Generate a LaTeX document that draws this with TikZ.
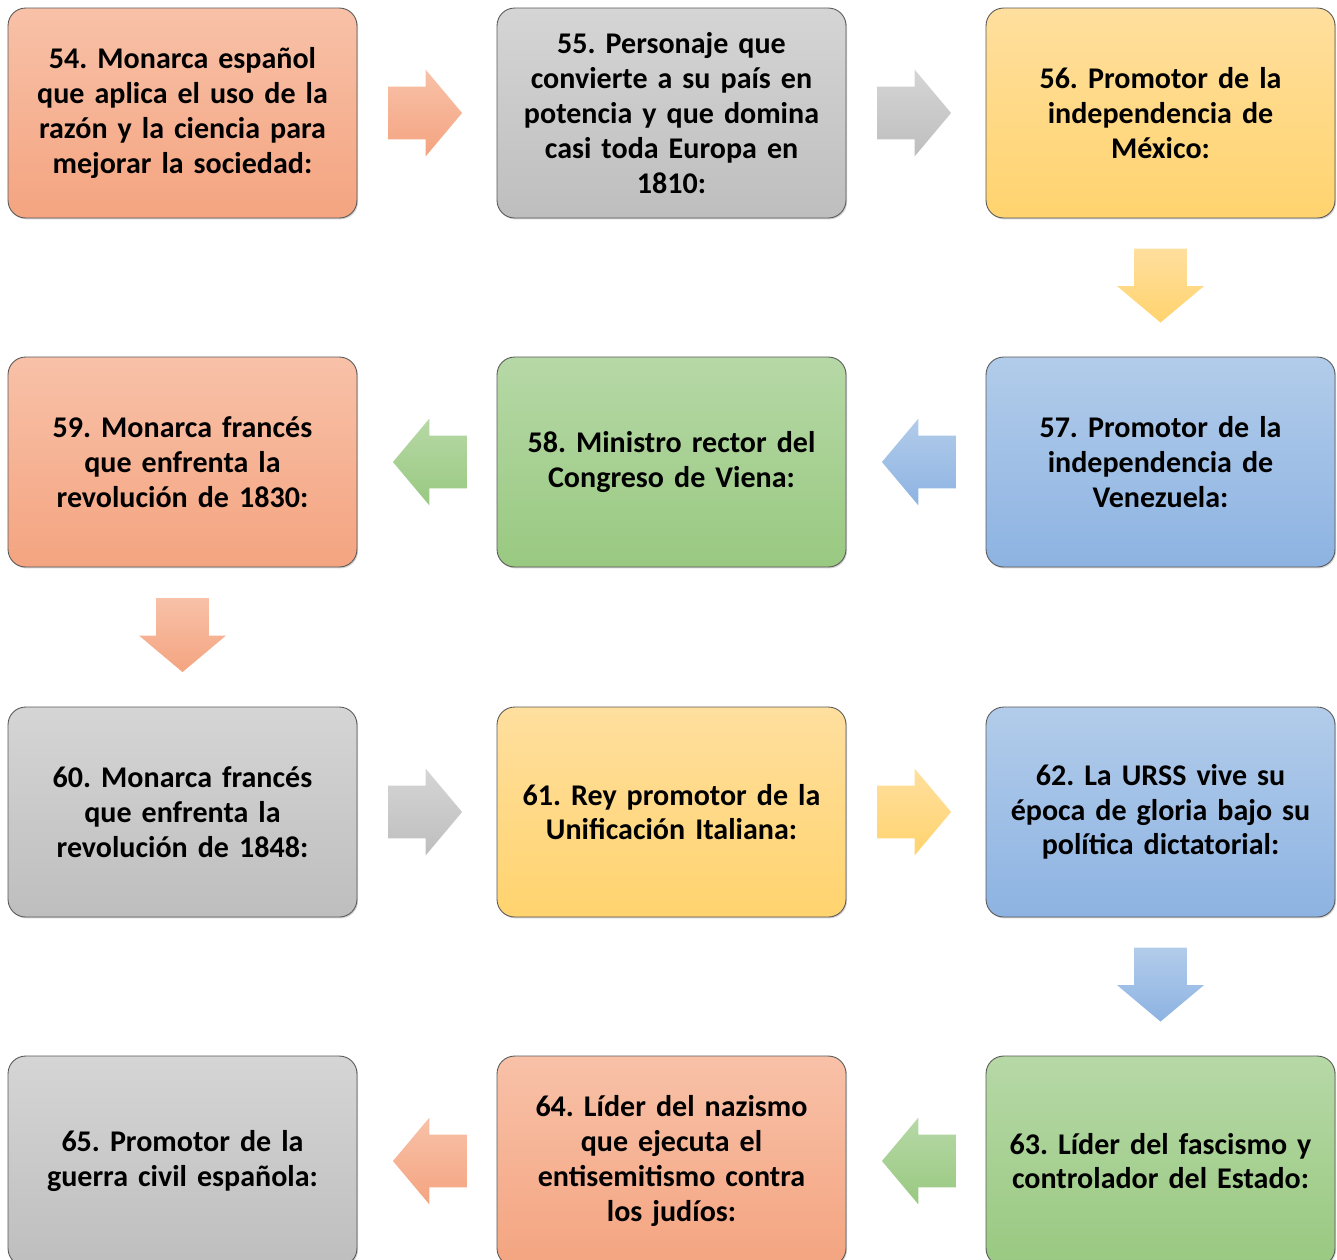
\documentclass[tikz,border=0pt]{standalone}
\usepackage{fontspec}
\setmainfont{Carlito}
\usetikzlibrary{shapes.arrows,calc,shadows}

\definecolor{naranjaA}{RGB}{248,193,168}
\definecolor{naranjaB}{RGB}{244,164,128}
\definecolor{grisA}{RGB}{213,213,213}
\definecolor{grisB}{RGB}{190,190,190}
\definecolor{amarilloA}{RGB}{255,223,158}
\definecolor{amarilloB}{RGB}{255,211,110}
\definecolor{azulA}{RGB}{178,204,234}
\definecolor{azulB}{RGB}{141,179,226}
\definecolor{verdeA}{RGB}{182,216,166}
\definecolor{verdeB}{RGB}{153,201,129}

\tikzset{
  caja/.style={rectangle, rounded corners=10pt, draw=gray!70!black, line width=0.5pt,
    minimum width=6.98cm, minimum height=4.2cm, text width=6.8cm, align=center,
    inner sep=0pt, outer sep=0pt,
    font=\fontsize{17.1}{19.8}\selectfont\bfseries\frenchspacing,
    drop shadow={shadow xshift=0.6pt, shadow yshift=-0.8pt, opacity=0.35}},
  naranja/.style={top color=naranjaA, bottom color=naranjaB},
  gris/.style={top color=grisA, bottom color=grisB},
  amarillo/.style={top color=amarilloA, bottom color=amarilloB},
  azul/.style={top color=azulA, bottom color=azulB},
  verde/.style={top color=verdeA, bottom color=verdeB},
  flecha/.style={single arrow, minimum height=1.48cm,
    single arrow head extend=0.34cm, single arrow tip angle=100,
    inner xsep=0pt, inner ysep=0.52cm, outer sep=0pt},
  der/.style={flecha},
  izq/.style={flecha, shape border rotate=180},
  abajo/.style={flecha, shape border rotate=270, inner xsep=0.52cm, inner ysep=0pt}
}

\begin{document}
\begin{tikzpicture}[x=0.02cm,y=-0.02cm]

\useasboundingbox (0,0) rectangle (1337,1259);

% fila 1
\node[caja,naranja] (c54) at (182.5,113) {54. Monarca español\\que aplica el uso de la\\razón y la ciencia para\\mejorar la sociedad:};
\node[caja,gris] (c55) at (671.5,113) {55. Personaje que\\convierte a su país en\\potencia y que domina\\casi toda Europa en\\1810:};
\node[caja,amarillo] (c56) at (1160.5,113) {56. Promotor de la\\independencia de\\México:};

% fila 2
\node[caja,azul] (c57) at (1160.5,462) {57. Promotor de la\\independencia de\\Venezuela:};
\node[caja,verde] (c58) at (671.5,462) {58. Ministro rector del\\Congreso de Viena:};
\node[caja,naranja] (c59) at (182.5,462) {59. Monarca francés\\que enfrenta la\\revolución de 1830:};

% fila 3
\node[caja,gris] (c60) at (182.5,812) {60. Monarca francés\\que enfrenta la\\revolución de 1848:};
\node[caja,amarillo] (c61) at (671.5,812) {61. Rey promotor de la\\Unificación Italiana:};
\node[caja,azul] (c62) at (1160.5,812) {62. La URSS vive su\\época de gloria bajo su\\política dictatorial:};

% fila 4
\node[caja,verde] (c63) at (1160.5,1161) {63. Líder del fascismo y\\controlador del Estado:};
\node[caja,naranja] (c64) at (671.5,1161) {64. Líder del nazismo\\que ejecuta el\\entisemitismo contra\\los judíos:};
\node[caja,gris] (c65) at (182.5,1161) {65. Promotor de la\\guerra civil española:};

% flechas
\node[der,naranja] (f54) at ($(c54.east)!0.5!(c55.west)+(-13,0)$) {};
\node[der,gris] (f55) at ($(c55.east)!0.5!(c56.west)+(-13,0)$) {};
\node[abajo,amarillo] (f56) at ($(c56.south)!0.5!(c57.north)+(0,-13)$) {};
\node[izq,azul] (f57) at ($(c57.west)!0.5!(c58.east)+(14,0)$) {};
\node[izq,verde] (f58) at ($(c58.west)!0.5!(c59.east)+(14,0)$) {};
\node[abajo,naranja] (f59) at ($(c59.south)!0.5!(c60.north)+(0,-13)$) {};
\node[der,gris] (f60) at ($(c60.east)!0.5!(c61.west)+(-13,0)$) {};
\node[der,amarillo] (f61) at ($(c61.east)!0.5!(c62.west)+(-13,0)$) {};
\node[abajo,azul] (f62) at ($(c62.south)!0.5!(c63.north)+(0,-13)$) {};
\node[izq,verde] (f63) at ($(c63.west)!0.5!(c64.east)+(14,0)$) {};
\node[izq,naranja] (f64) at ($(c64.west)!0.5!(c65.east)+(14,0)$) {};

\end{tikzpicture}
\end{document}
